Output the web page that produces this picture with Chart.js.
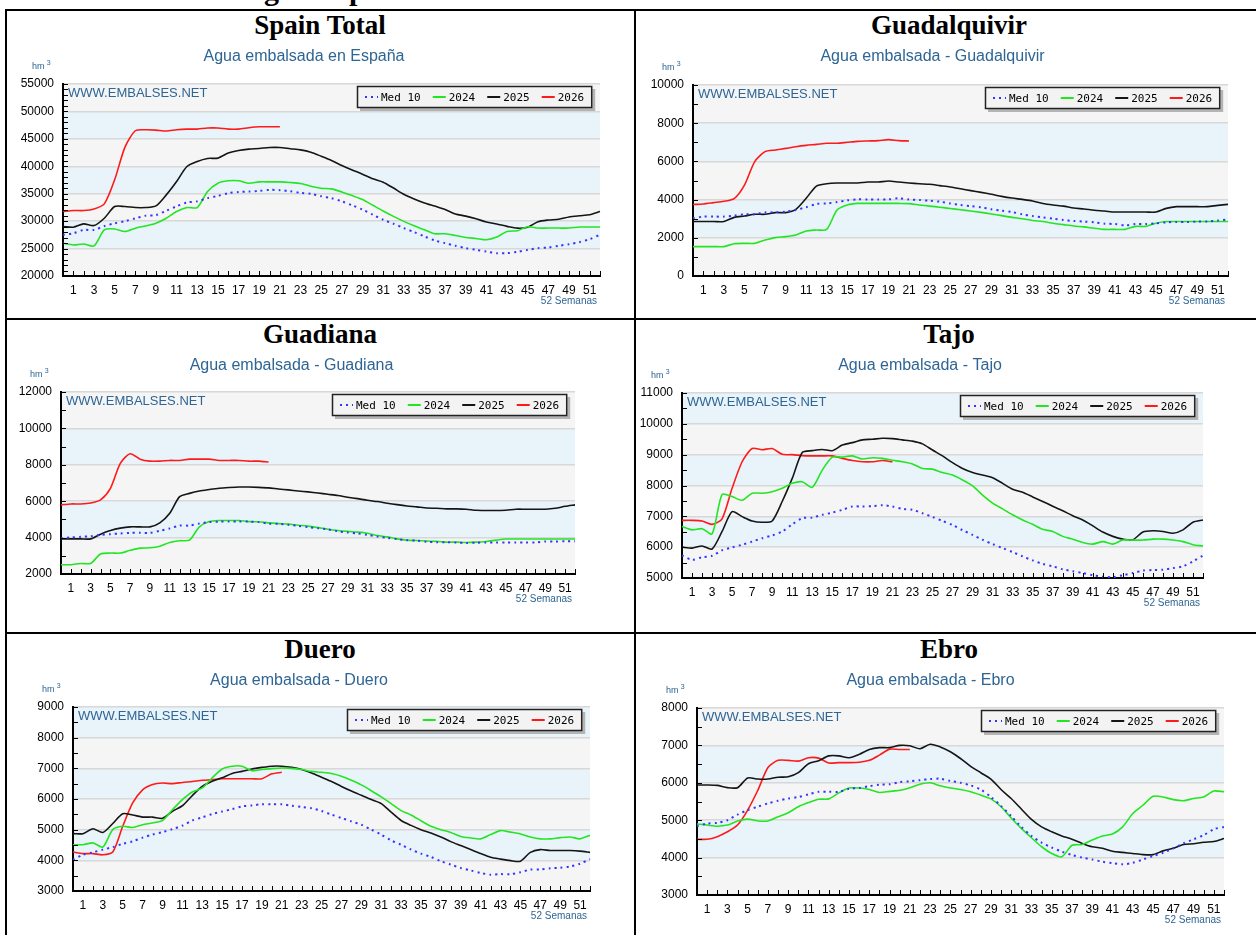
<!DOCTYPE html>
<html>
<head>
<meta charset="utf-8">
<script src="https://cdn.jsdelivr.net/npm/chart.js@4"></script>
<style>
html, body { margin: 0; padding: 0; overflow: hidden; }
body { width: 1256px; height: 935px; position: relative; background: #fff; }
.rule { position: absolute; background: #000; }
.ttl { position: absolute; font: bold 27px 'Liberation Serif', serif; line-height: 27px; text-align: center; color: #000; }
.top { position: absolute; left: 67px; top: -25px; font: bold 30px 'Liberation Serif', serif; line-height: 30px; white-space: nowrap; }
canvas { position: absolute; }
</style>
</head>
<body>
<div class="top">Reservoir storage in Spain</div>

<div class="rule" style="left:5px;top:9px;width:1251px;height:2px"></div>
<div class="rule" style="left:5px;top:318px;width:1251px;height:2px"></div>
<div class="rule" style="left:5px;top:632px;width:1251px;height:2px"></div>
<div class="rule" style="left:5px;top:9px;width:2px;height:926px"></div>
<div class="rule" style="left:634px;top:9px;width:2px;height:926px"></div>

<div class="ttl" style="left:6px;top:12px;width:628px">Spain Total</div>
<div class="ttl" style="left:636px;top:12px;width:626px">Guadalquivir</div>
<div class="ttl" style="left:6px;top:321px;width:628px">Guadiana</div>
<div class="ttl" style="left:636px;top:321px;width:626px">Tajo</div>
<div class="ttl" style="left:6px;top:636px;width:628px">Duero</div>
<div class="ttl" style="left:636px;top:636px;width:626px">Ebro</div>

<canvas id="c1"></canvas>
<canvas id="c2"></canvas>
<canvas id="c3"></canvas>
<canvas id="c4"></canvas>
<canvas id="c5"></canvas>
<canvas id="c6"></canvas>

<script>
// semanas del año hidrológico
var weeks = [0,1,2,3,4,5,6,7,8,9,10,11,12,13,14,15,16,17,18,19,20,21,22,23,24,25,26,
  27,28,29,30,31,32,33,34,35,36,37,38,39,40,41,42,43,44,45,46,47,48,49,50,51,52];

var seriesNames = ['Med 10', '2024', '2025', '2026'];
var seriesColors = ['#3434ff', '#22e622', '#151515', '#ff1a1a'];

// Spain Total
var spainMed = [27500,27800,28400,28400,29100,29600,30000,30500,31000,31100,
  31900,32700,33400,33600,34200,34600,35100,35300,35400,35500,
  35700,35650,35450,35150,34970,34540,34170,33620,32890,32100,
  31180,30260,29530,28740,28000,27210,26480,25990,25500,25070,
  24770,24460,24160,24160,24400,24770,25070,25190,25500,25800,
  26170,26720,27510];
var spain2024 = [25960,25660,25840,25480,28400,28580,28100,28700,29130,29620,
  30530,31750,32480,32480,35400,36920,37350,37350,36920,37160,
  37160,37160,37040,36860,36370,36000,35880,35330,34660,33930,
  32890,31850,30870,29960,29160,28430,27700,27700,27390,27030,
  26840,26600,27090,28130,28250,28980,28740,28740,28740,28740,
  28920,28920,28920];
var spain2025 = [29010,28890,29500,29190,30530,32660,32660,32480,32480,32780,
  34790,37230,39960,40880,41430,41490,42400,42890,43130,43250,
  43430,43430,43200,42990,42560,41830,41060,40150,39330,38560,
  37710,37100,36030,34900,34050,33320,32740,32130,31310,30910,
  30420,29850,29480,29050,28720,28900,29910,30210,30340,30760,
  30980,31160,31740];
var spain2026 = [31750,31930,31930,32230,33150,37530,43500,46480,46660,46600,
  46420,46660,46780,46780,46970,46970,46780,46780,47030,47200,47200,47200];

// Guadalquivir
var guadalquivirMed = [3020,3110,3110,3110,3160,3230,3230,3330,3330,3370,
  3460,3600,3770,3800,3870,3960,4010,4010,4010,4010,
  4070,4010,3980,3940,3890,3800,3720,3660,3600,3490,
  3420,3350,3230,3140,3070,3000,2930,2880,2850,2810,
  2740,2720,2650,2720,2720,2760,2810,2830,2830,2850,
  2860,2900,2970];
var guadalquivir2024 = [1540,1540,1540,1540,1690,1710,1710,1880,2010,2060,
  2150,2360,2410,2440,3460,3720,3800,3800,3800,3800,
  3800,3790,3720,3660,3600,3530,3470,3400,3330,3250,
  3160,3070,3000,2910,2850,2760,2690,2620,2570,2500,
  2440,2440,2440,2600,2600,2760,2850,2850,2850,2850,
  2850,2850,2850];
var guadalquivir2025 = [2850,2850,2850,2850,3070,3140,3230,3230,3320,3320,
  3490,4070,4710,4830,4870,4870,4870,4920,4920,4970,
  4920,4870,4830,4800,4730,4660,4570,4470,4380,4280,
  4170,4080,4010,3930,3800,3720,3660,3560,3510,3440,
  3400,3350,3350,3350,3350,3350,3540,3630,3630,3630,
  3630,3700,3750];
var guadalquivir2026 = [3740,3770,3840,3910,4050,4760,5990,6510,6600,6680,
  6770,6840,6890,6950,6950,7000,7050,7070,7090,7140,7090,7070];

// Guadiana
var guadianaMed = [3970,4010,4040,4080,4150,4190,4230,4260,4260,4260,
  4370,4500,4660,4660,4770,4850,4880,4880,4880,4880,
  4850,4770,4760,4700,4650,4570,4520,4450,4350,4280,
  4230,4150,4060,3990,3920,3860,3830,3770,3750,3750,
  3730,3700,3720,3730,3730,3730,3730,3730,3730,3790,
  3790,3800,3800];
var guadiana2024 = [2510,2510,2580,2580,3100,3150,3150,3300,3420,3440,
  3530,3730,3830,3860,4590,4880,4940,4940,4940,4880,
  4870,4810,4770,4740,4680,4630,4550,4460,4390,4340,
  4300,4240,4120,4040,3930,3860,3840,3810,3790,3750,
  3750,3730,3750,3790,3860,3920,3920,3920,3920,3920,
  3920,3920,3920];
var guadiana2025 = [3930,3930,3930,3930,4190,4390,4520,4590,4590,4590,
  4810,5340,6250,6430,6560,6640,6710,6750,6780,6780,
  6760,6730,6670,6620,6560,6510,6450,6380,6310,6220,
  6140,6050,5980,5890,5810,5740,5690,5630,5610,5580,
  5580,5560,5500,5490,5490,5500,5560,5560,5560,5560,
  5610,5720,5800];
var guadiana2026 = [5800,5850,5850,5900,6070,6710,8080,8610,8310,8200,
  8200,8240,8240,8310,8310,8310,8240,8240,8240,8200,8200,8150];

// Tajo
var tajoMed = [5730,5590,5670,5720,5900,5990,6080,6180,6290,6380,
  6510,6740,6940,6960,7050,7120,7210,7320,7320,7330,
  7360,7320,7240,7210,7100,6980,6850,6720,6550,6400,
  6240,6100,5970,5840,5700,5570,5460,5380,5280,5220,
  5160,5090,5040,5030,5090,5160,5240,5260,5270,5320,
  5380,5540,5730];
var tajo2024 = [6670,6560,6600,6430,7710,7640,7520,7750,7750,7800,
  7910,8070,8120,7940,8500,8920,8920,8960,8860,8900,
  8880,8820,8770,8700,8550,8530,8420,8340,8180,7990,
  7690,7430,7240,7050,6880,6740,6580,6510,6350,6260,
  6150,6100,6180,6100,6230,6230,6230,6260,6260,6230,
  6180,6080,6040];
var tajo2025 = [6000,5970,6040,5940,6510,7150,6990,6850,6810,6850,
  7480,8230,9070,9130,9170,9130,9310,9390,9480,9500,
  9530,9520,9480,9440,9350,9150,8960,8740,8550,8420,
  8340,8250,8070,7880,7780,7630,7480,7330,7180,7020,
  6880,6690,6490,6350,6260,6240,6490,6530,6510,6450,
  6560,6810,6880];
var tajo2026 = [6870,6870,6850,6740,6920,7910,8770,9200,9160,9200,
  9010,9000,8970,8960,8960,8960,8880,8810,8770,8770,8810,8760];

// Duero
var dueroMed = [4020,4180,4260,4350,4430,4540,4620,4740,4840,4920,
  5020,5130,5300,5400,5510,5590,5670,5760,5790,5830,
  5830,5830,5780,5740,5700,5610,5490,5380,5270,5160,
  5000,4840,4650,4510,4350,4220,4110,3970,3860,3750,
  3670,3590,3530,3550,3550,3610,3700,3700,3740,3760,
  3800,3890,4040];
var duero2024 = [4510,4510,4570,4430,5000,5110,5070,5160,5220,5300,
  5650,5980,6230,6360,6690,6980,7070,7070,6920,6960,
  6990,7010,7000,6960,6900,6870,6830,6740,6610,6460,
  6270,6070,5850,5620,5480,5290,5110,5000,4910,4780,
  4730,4700,4840,4970,4920,4860,4760,4700,4700,4740,
  4760,4700,4820];
var duero2025 = [4870,4870,5030,4910,5200,5520,5480,5410,5410,5370,
  5600,5780,6110,6410,6580,6690,6830,6900,6980,7030,
  7070,7070,7030,6960,6850,6710,6570,6410,6260,6120,
  5980,5850,5570,5300,5140,5000,4890,4760,4610,4480,
  4350,4220,4100,4040,3990,3970,4260,4350,4320,4320,
  4320,4300,4260];
var duero2026 = [4270,4220,4220,4180,4270,5110,5870,6300,6470,6520,
  6500,6540,6570,6610,6630,6660,6660,6660,6660,6660,6820,6870];

// Ebro
var ebroMed = [4840,4910,4930,5000,5150,5270,5360,5450,5520,5580,
  5620,5690,5760,5760,5760,5840,5860,5910,5950,5960,
  6020,6040,6070,6100,6110,6050,6000,5930,5820,5620,
  5380,5110,4820,4580,4400,4270,4160,4070,4000,3950,
  3890,3850,3820,3860,3950,4040,4130,4250,4380,4490,
  4600,4760,4820];
var ebro2024 = [4900,4870,4840,4870,4980,5030,4980,4980,5090,5200,
  5360,5470,5560,5570,5730,5860,5860,5820,5740,5770,
  5800,5870,5960,6000,5920,5860,5820,5760,5670,5570,
  5360,5060,4780,4530,4290,4110,4020,4330,4350,4470,
  4580,4630,4820,5180,5400,5640,5620,5550,5520,5580,
  5620,5780,5760];
var ebro2025 = [5940,5940,5930,5870,5870,6130,6100,6100,6150,6160,
  6270,6510,6590,6720,6720,6670,6760,6890,6940,6940,
  7000,6990,6910,7030,6960,6830,6650,6440,6270,6100,
  5820,5580,5300,5020,4820,4690,4580,4490,4380,4290,
  4250,4170,4140,4110,4080,4080,4180,4250,4350,4370,
  4410,4430,4510];
var ebro2026 = [4490,4490,4560,4690,4870,5270,5800,6410,6600,6600,
  6580,6670,6660,6530,6540,6540,6550,6600,6740,6900,6890,6890];

// one entry per panel: canvas box [x, y, w, h] and plot box [left, top, right, bottom] in page px
var panels = [
  { id: 'c1', sub: 'Agua embalsada en España', series: [spainMed, spain2024, spain2025, spain2026],
    min: 20000, max: 55000, major: 5000, minor: 1000, box: [8, 40, 624, 275], plot: [63, 84, 600, 276], subY: 57 },
  { id: 'c2', sub: 'Agua embalsada - Guadalquivir', series: [guadalquivirMed, guadalquivir2024, guadalquivir2025, guadalquivir2026],
    min: 0, max: 10000, major: 2000, minor: 1000, box: [637, 40, 624, 275], plot: [693, 85, 1228, 276], subY: 57 },
  { id: 'c3', sub: 'Agua embalsada - Guadiana', series: [guadianaMed, guadiana2024, guadiana2025, guadiana2026],
    min: 2000, max: 12000, major: 2000, minor: 1000, box: [8, 349, 596, 280], plot: [61, 392, 575, 574], subY: 366 },
  { id: 'c4', sub: 'Agua embalsada - Tajo', series: [tajoMed, tajo2024, tajo2025, tajo2026],
    min: 5000, max: 11000, major: 1000, minor: 500, box: [637, 349, 588, 280], plot: [682, 393, 1203, 578], subY: 366 },
  { id: 'c5', sub: 'Agua embalsada - Duero', series: [dueroMed, duero2024, duero2025, duero2026],
    min: 3000, max: 9000, major: 1000, minor: 500, box: [8, 664, 622, 271], plot: [73, 707, 590, 891], subY: 681 },
  { id: 'c6', sub: 'Agua embalsada - Ebro', series: [ebroMed, ebro2024, ebro2025, ebro2026],
    min: 3000, max: 8000, major: 1000, minor: 500, box: [637, 664, 624, 271], plot: [697, 708, 1224, 895], subY: 681 }
];

var BLUE_TXT = '#2e6594';
var X_AXIS_H = 30;

// bands, inner tick marks, watermark, hm3, "52 Semanas" and the boxed legend
var decor = {
  id: 'decor',
  beforeDraw: function(chart, args, o) {
    var ctx = chart.ctx, a = chart.chartArea, y = chart.scales.y;
    ctx.save();
    var i = 0;
    for (var v = y.min; v < y.max; v += o.major, i++) {
      var y0 = y.getPixelForValue(v), y1 = y.getPixelForValue(v + o.major);
      ctx.fillStyle = i % 2 ? '#e9f3fa' : '#f5f5f5';
      ctx.fillRect(a.left, y1, a.right - a.left, y0 - y1);
    }
    ctx.restore();
  },
  beforeDatasetsDraw: function(chart) {
    var ctx = chart.ctx, a = chart.chartArea;
    ctx.save();
    ctx.fillStyle = BLUE_TXT;
    ctx.font = '13px "Liberation Sans"';
    ctx.textBaseline = 'top';
    ctx.fillText('WWW.EMBALSES.NET', a.left + 5, a.top + 3);
    ctx.restore();
  },
  afterDraw: function(chart) {
    var ctx = chart.ctx, a = chart.chartArea, x = chart.scales.x, y = chart.scales.y;
    ctx.save();
    // tick marks pointing inwards
    ctx.strokeStyle = '#000';
    ctx.lineWidth = 1;
    ctx.beginPath();
    y.ticks.forEach(function(t) {
      var py = Math.round(y.getPixelForValue(t.value)) + 0.5;
      ctx.moveTo(a.left, py); ctx.lineTo(a.left + 5, py);
    });
    for (var k = 1; k < weeks.length; k++) {
      var px = Math.round(x.getPixelForValue(k)) + 0.5;
      ctx.moveTo(px, a.bottom); ctx.lineTo(px, a.bottom - 5);
    }
    ctx.stroke();

    // unit label
    ctx.fillStyle = BLUE_TXT;
    ctx.textBaseline = 'alphabetic';
    ctx.font = '9px "Liberation Sans"';
    ctx.fillText('hm', a.left - 31, a.top - 15);
    ctx.font = '7px "Liberation Sans"';
    ctx.fillText('3', a.left - 31 + ctx.measureText('hm').width + 5, a.top - 19);

    ctx.font = '10px "Liberation Sans"';
    ctx.textAlign = 'right';
    ctx.fillText('52 Semanas', a.right - 3, a.bottom + 28);
    ctx.textAlign = 'left';

    // legend box in the top right corner of the plot
    ctx.font = '11px "DejaVu Sans Mono"';
    var mark = 13, gap = 3, sep = 12, pad = 8, bh = 22;
    var items = chart.data.datasets.map(function(d) {
      return { label: d.label, color: d.borderColor, dash: d.borderDash || [], w: ctx.measureText(d.label).width };
    });
    var bw = pad * 2 + sep * (items.length - 1);
    items.forEach(function(it) { bw += mark + gap + it.w; });
    var bx = Math.round(a.right - 8 - bw), by = Math.round(a.top + 2);
    ctx.fillStyle = '#b4b4b4';
    ctx.fillRect(bx + 3, by + 3, bw, bh);
    ctx.fillStyle = '#f3f3f3';
    ctx.fillRect(bx, by, bw, bh);
    ctx.strokeStyle = '#222';
    ctx.lineWidth = 1.5;
    ctx.strokeRect(bx + 0.5, by + 0.5, bw - 1, bh - 1);
    var cx = bx + pad, cy = by + bh / 2;
    ctx.textBaseline = 'middle';
    items.forEach(function(it) {
      ctx.strokeStyle = it.color;
      ctx.lineWidth = 2;
      ctx.setLineDash(it.dash);
      ctx.beginPath();
      ctx.moveTo(cx, cy); ctx.lineTo(cx + mark, cy);
      ctx.stroke();
      ctx.setLineDash([]);
      ctx.fillStyle = '#000';
      ctx.fillText(it.label, cx + mark + gap, cy + 1);
      cx += mark + gap + it.w + sep;
    });
    ctx.restore();
  }
};

panels.forEach(function(p) {
  var cv = document.getElementById(p.id);
  var bx = p.box, pl = p.plot;
  cv.width = bx[2]; cv.height = bx[3];
  cv.style.left = bx[0] + 'px'; cv.style.top = bx[1] + 'px';

  var padTop = p.subY - bx[1] - 9.6;
  var padBottom = pl[1] - bx[1] - padTop - 19.2;
  var yW = pl[0] - bx[0];
  var major = p.major;

  new Chart(cv, {
    type: 'line',
    data: {
      labels: weeks,
      datasets: p.series.map(function(s, k) {
        return {
          label: seriesNames[k],
          data: s,
          borderColor: seriesColors[k],
          borderWidth: k === 0 ? 2 : 1.6,
          borderDash: k === 0 ? [2, 4] : [],
          pointRadius: 0,
          tension: 0.25,
          fill: false
        };
      })
    },
    options: {
      responsive: false,
      animation: false,
      devicePixelRatio: 1,
      layout: { padding: { left: 0, top: 0, right: bx[0] + bx[2] - pl[2], bottom: bx[1] + bx[3] - pl[3] - X_AXIS_H } },
      plugins: {
        legend: { display: false },
        tooltip: { enabled: false },
        title: {
          display: true,
          text: p.sub,
          color: BLUE_TXT,
          font: { family: 'Liberation Sans', size: 16, weight: 'normal', lineHeight: 1.2 },
          padding: { top: padTop, bottom: padBottom }
        },
        decor: { major: major }
      },
      scales: {
        x: {
          type: 'category',
          offset: false,
          grid: { display: false, drawTicks: false },
          border: { color: '#000', width: 2 },
          ticks: {
            autoSkip: false, maxRotation: 0, padding: 7, color: '#000',
            font: { family: 'Liberation Sans', size: 12 },
            callback: function(v, i) { return i % 2 === 1 ? String(weeks[i]) : ''; }
          },
          afterFit: function(s) { s.height = X_AXIS_H; }
        },
        y: {
          min: p.min, max: p.max,
          grid: {
            drawTicks: false, lineWidth: 1.5,
            color: function(c) { return c.tick && c.tick.value % major === 0 ? '#d8d8d8' : 'rgba(0,0,0,0)'; }
          },
          border: { color: '#000', width: 2 },
          ticks: {
            stepSize: p.minor, autoSkip: false, padding: 9, color: '#000',
            font: { family: 'Liberation Sans', size: 12 },
            callback: function(v) { return v % major === 0 ? String(v) : ''; }
          },
          afterFit: function(s) { s.width = yW; }
        }
      }
    },
    plugins: [decor]
  });
});
</script>
</body>
</html>
